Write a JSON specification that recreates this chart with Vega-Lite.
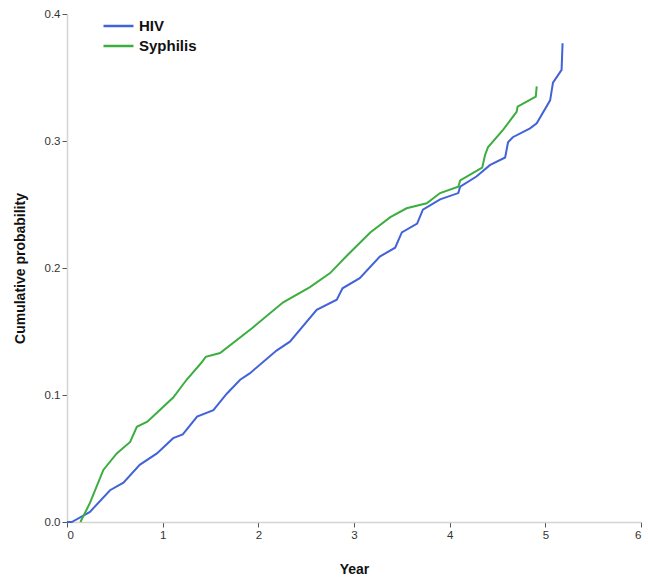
{
  "$schema": "https://vega.github.io/schema/vega-lite/v6.json",
  "autosize": "none",
  "width": 574,
  "height": 508,
  "padding": {"left": 67, "top": 14, "right": 7, "bottom": 57},
  "background": "white",
  "config": {
    "view": {"stroke": null},
    "font": "Liberation Sans",
    "axis": {
      "grid": false,
      "domainColor": "#d4d4d4",
      "domainWidth": 1.5,
      "tickColor": "#555555",
      "tickSize": 5,
      "labelColor": "#333333",
      "labelFontSize": 11.5,
      "titleFontSize": 14,
      "titleFontWeight": "bold",
      "titleColor": "#111111"
    }
  },
  "data": {
    "values": [
      {"group": "HIV", "year": 0, "p": 0},
      {"group": "HIV", "year": 0.05, "p": 0},
      {"group": "HIV", "year": 0.24, "p": 0.008},
      {"group": "HIV", "year": 0.45, "p": 0.025},
      {"group": "HIV", "year": 0.59, "p": 0.031},
      {"group": "HIV", "year": 0.76, "p": 0.045},
      {"group": "HIV", "year": 0.94, "p": 0.054},
      {"group": "HIV", "year": 1.11, "p": 0.066},
      {"group": "HIV", "year": 1.21, "p": 0.069},
      {"group": "HIV", "year": 1.36, "p": 0.083},
      {"group": "HIV", "year": 1.53, "p": 0.088},
      {"group": "HIV", "year": 1.67, "p": 0.101},
      {"group": "HIV", "year": 1.81, "p": 0.112},
      {"group": "HIV", "year": 1.91, "p": 0.117},
      {"group": "HIV", "year": 2.19, "p": 0.135},
      {"group": "HIV", "year": 2.33, "p": 0.142},
      {"group": "HIV", "year": 2.61, "p": 0.167},
      {"group": "HIV", "year": 2.82, "p": 0.175},
      {"group": "HIV", "year": 2.88, "p": 0.184},
      {"group": "HIV", "year": 3.06, "p": 0.192},
      {"group": "HIV", "year": 3.27, "p": 0.209},
      {"group": "HIV", "year": 3.43, "p": 0.216},
      {"group": "HIV", "year": 3.5, "p": 0.228},
      {"group": "HIV", "year": 3.66, "p": 0.235},
      {"group": "HIV", "year": 3.72, "p": 0.246},
      {"group": "HIV", "year": 3.9, "p": 0.254},
      {"group": "HIV", "year": 4.09, "p": 0.259},
      {"group": "HIV", "year": 4.11, "p": 0.264},
      {"group": "HIV", "year": 4.28, "p": 0.272},
      {"group": "HIV", "year": 4.42, "p": 0.281},
      {"group": "HIV", "year": 4.58, "p": 0.287},
      {"group": "HIV", "year": 4.61, "p": 0.299},
      {"group": "HIV", "year": 4.66, "p": 0.303},
      {"group": "HIV", "year": 4.84, "p": 0.31},
      {"group": "HIV", "year": 4.91, "p": 0.314},
      {"group": "HIV", "year": 5.05, "p": 0.332},
      {"group": "HIV", "year": 5.08, "p": 0.346},
      {"group": "HIV", "year": 5.17, "p": 0.356},
      {"group": "HIV", "year": 5.18, "p": 0.377},
      {"group": "Syphilis", "year": 0.14, "p": 0},
      {"group": "Syphilis", "year": 0.24, "p": 0.015},
      {"group": "Syphilis", "year": 0.38, "p": 0.041},
      {"group": "Syphilis", "year": 0.52, "p": 0.054},
      {"group": "Syphilis", "year": 0.66, "p": 0.063},
      {"group": "Syphilis", "year": 0.73, "p": 0.075},
      {"group": "Syphilis", "year": 0.84, "p": 0.079},
      {"group": "Syphilis", "year": 0.94, "p": 0.086},
      {"group": "Syphilis", "year": 1.11, "p": 0.098},
      {"group": "Syphilis", "year": 1.25, "p": 0.112},
      {"group": "Syphilis", "year": 1.4, "p": 0.125},
      {"group": "Syphilis", "year": 1.45, "p": 0.13},
      {"group": "Syphilis", "year": 1.6, "p": 0.133},
      {"group": "Syphilis", "year": 1.94, "p": 0.153},
      {"group": "Syphilis", "year": 2.26, "p": 0.173},
      {"group": "Syphilis", "year": 2.54, "p": 0.185},
      {"group": "Syphilis", "year": 2.75, "p": 0.196},
      {"group": "Syphilis", "year": 2.93, "p": 0.21},
      {"group": "Syphilis", "year": 3.17, "p": 0.228},
      {"group": "Syphilis", "year": 3.38, "p": 0.24},
      {"group": "Syphilis", "year": 3.55, "p": 0.247},
      {"group": "Syphilis", "year": 3.76, "p": 0.251},
      {"group": "Syphilis", "year": 3.9, "p": 0.259},
      {"group": "Syphilis", "year": 4.09, "p": 0.264},
      {"group": "Syphilis", "year": 4.11, "p": 0.269},
      {"group": "Syphilis", "year": 4.34, "p": 0.279},
      {"group": "Syphilis", "year": 4.37, "p": 0.289},
      {"group": "Syphilis", "year": 4.4, "p": 0.295},
      {"group": "Syphilis", "year": 4.56, "p": 0.309},
      {"group": "Syphilis", "year": 4.7, "p": 0.323},
      {"group": "Syphilis", "year": 4.71, "p": 0.327},
      {"group": "Syphilis", "year": 4.9, "p": 0.335},
      {"group": "Syphilis", "year": 4.91, "p": 0.343}
    ]
  },
  "mark": {"type": "line", "strokeWidth": 2, "interpolate": "linear"},
  "encoding": {
    "x": {
      "field": "year",
      "type": "quantitative",
      "scale": {"domain": [0, 6], "nice": false, "zero": true},
      "axis": {"title": "Year", "values": [0, 1, 2, 3, 4, 5, 6], "format": "d", "labelPadding": 2, "titlePadding": 22}
    },
    "y": {
      "field": "p",
      "type": "quantitative",
      "scale": {"domain": [0, 0.4], "nice": false},
      "axis": {"title": "Cumulative probability", "values": [0, 0.1, 0.2, 0.3, 0.4], "format": ".1f", "labelPadding": 2, "titlePadding": 17}
    },
    "color": {
      "field": "group",
      "type": "nominal",
      "scale": {"domain": ["HIV", "Syphilis"], "range": ["#4263d8", "#3cae3f"]},
      "legend": {
        "title": null,
        "orient": "none",
        "legendX": 35,
        "legendY": 3,
        "symbolType": "stroke",
        "symbolSize": 900,
        "symbolStrokeWidth": 2.5,
        "labelFontSize": 15,
        "labelFontWeight": "bold",
        "labelColor": "#111111",
        "labelOffset": 4,
        "clipHeight": 18,
        "rowPadding": 2
      }
    }
  }
}
